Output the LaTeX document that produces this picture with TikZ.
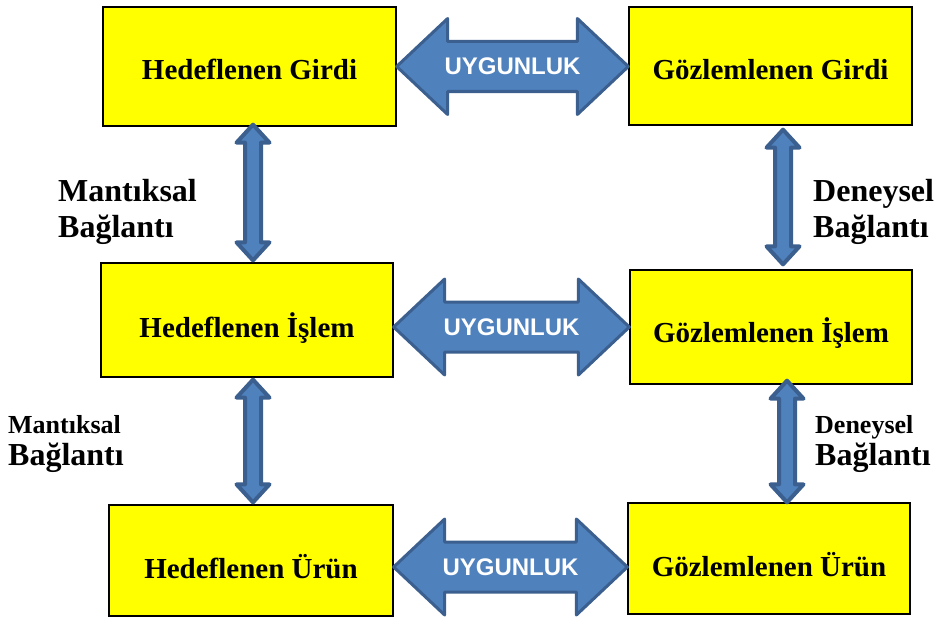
\documentclass[tikz,border=0pt]{standalone}
\usepackage{fontspec}
\setmainfont{Liberation Serif}
\newfontfamily\arialf{Liberation Sans}
\usetikzlibrary{calc}
\definecolor{boxyellow}{HTML}{FFFF00}
\definecolor{arrfill}{HTML}{4F81BD}
\definecolor{arrdraw}{HTML}{3B5F8E}
\tikzset{
  box/.style={draw=black, line width=1.3pt, fill=boxyellow, inner sep=0pt,
    font=\bfseries\fontsize{29}{34}\selectfont, text depth=0pt},
  arr/.style={draw=arrdraw, fill=arrfill, line width=3pt, line join=round},
  varr/.style={arr, line width=4pt},
  uyg/.style={text=white, font=\arialf\bfseries\fontsize{24}{28}\selectfont},
  biglab/.style={anchor=base west, inner sep=0pt, font=\bfseries\fontsize{32}{36}\selectfont},
  smalllab/.style={anchor=base west, inner sep=0pt, font=\bfseries\fontsize{26}{30}\selectfont}
}
\newcommand\harrowdraw[2]{%
  \draw[arr] (#1) -- ($(#1)+(51,-48)$) -- ($(#1)+(51,-25)$) -- ($(#2)+(-51,-25)$)
    -- ($(#2)+(-51,-48)$) -- (#2) -- ($(#2)+(-51,48)$) -- ($(#2)+(-51,25)$)
    -- ($(#1)+(51,25)$) -- ($(#1)+(51,48)$) -- cycle;}
\newcommand\varrowdraw[2]{%
  \draw[varr] ($(#1)+(0,2)$) -- ($(#1)+(16.5,20)$) -- ($(#1)+(8,20)$) -- ($(#2)+(8,-20)$)
    -- ($(#2)+(16.5,-20)$) -- ($(#2)+(0,-2)$) -- ($(#2)+(-16.5,-20)$) -- ($(#2)+(-8,-20)$)
    -- ($(#1)+(-8,20)$) -- ($(#1)+(-16.5,20)$) -- cycle;}
\begin{document}
\begin{tikzpicture}[x=1pt,y=-1pt]
\useasboundingbox (0,0) rectangle (940,618);
% boxes
\node[box, minimum width=293pt, minimum height=119pt, text height=27pt] (hg) at (249.5,66.5) {Hedeflenen Girdi};
\node[box, minimum width=283pt, minimum height=118pt, text height=28pt] (gg) at (770.5,66) {Gözlemlenen Girdi};
\node[box, minimum width=292pt, minimum height=114pt, text height=34pt] (hi) at (247,320) {Hedeflenen İşlem};
\node[box, minimum width=282pt, minimum height=114pt, text height=30pt] (gi) at (771,327) {Gözlemlenen İşlem};
\node[box, minimum width=284pt, minimum height=111pt, text height=35pt] (hu) at (251,560.5) {Hedeflenen Ürün};
\node[box, minimum width=282pt, minimum height=111pt, text height=35pt] (gu) at (769,558.5) {Gözlemlenen Ürün};
% arrow end points
\coordinate (a1l) at (hg.east);
\coordinate (a1r) at (gg.west |- hg.east);
\coordinate (a2l) at (hi.east |- gi.west);
\coordinate (a2r) at (gi.west);
\path (hu.east) ++(0,6.5) coordinate (a3l);
\coordinate (a3r) at (gu.west |- a3l);
\path (hg.south) ++(3.5,-4) coordinate (v1t);
\coordinate (v1b) at (v1t |- hi.north);
\path (gg.south) ++(12.5,2) coordinate (v2t);
\path (v2t |- gi.north) ++(0,-3) coordinate (v2b);
\path (hi.south) ++(6,0) coordinate (v3t);
\coordinate (v3b) at (v3t |- hu.north);
\path (gi.south) ++(16,-6) coordinate (v4t);
\path (v4t |- gu.north) ++(0,2) coordinate (v4b);
% horizontal arrows
\harrowdraw{a1l}{a1r}
\harrowdraw{a2l}{a2r}
\harrowdraw{a3l}{a3r}
\node[uyg] (u1) at ($(a1l)!0.5!(a1r)$) {UYGUNLUK};
\node[uyg] (u2) at ($(a2l)!0.5!(a2r)$) {UYGUNLUK};
\node[uyg] (u3) at ($(a3l)!0.5!(a3r)$) {UYGUNLUK};
% vertical arrows
\varrowdraw{v1t}{v1b}
\varrowdraw{v2t}{v2b}
\varrowdraw{v3t}{v3b}
\varrowdraw{v4t}{v4b}
% labels
\node[biglab] (m1a) at (58,201) {Mantıksal};
\node[biglab] (m1b) at (58,237) {Bağlantı};
\node[biglab] (d1a) at (813,201) {Deneysel};
\node[biglab] (d1b) at (813,237) {Bağlantı};
\node[smalllab] (m2a) at (8,433) {Mantıksal};
\node[biglab] (m2b) at (8,465) {Bağlantı};
\node[smalllab] (d2a) at (815,433) {Deneysel};
\node[biglab] (d2b) at (815,465) {Bağlantı};
\end{tikzpicture}
\end{document}
